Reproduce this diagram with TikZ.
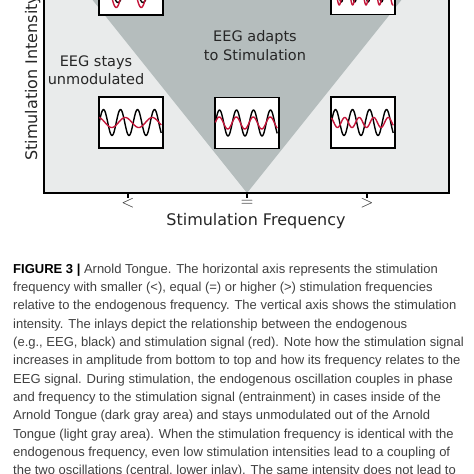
\documentclass[tikz,border=0pt]{standalone}
\usepackage{fontspec}
\setmainfont{Liberation Sans}
\newfontfamily\plotfont{DejaVu Sans}

\definecolor{outside}{HTML}{E9EBEB}
\definecolor{tongue}{HTML}{B5BDBD}
\definecolor{stim}{HTML}{C4163A}
\definecolor{captext}{HTML}{404040}

\begin{document}
\begin{tikzpicture}[x = 1 pt, y = -1 pt,
	inlay/.style = {draw, line width = 1.5 pt, fill = white, minimum width = 64 pt, minimum height = 51 pt, inner sep = 0 pt},
	regionlabel/.style = {anchor = base, inner sep = 0 pt, font = \plotfont\fontsize{14.5}{17}\selectfont, text = black!85},
	axislabel/.style = {inner sep = 0 pt, font = \plotfont\fontsize{16}{19}\selectfont, text = black!85},
	captionline/.style = {anchor = base west, inner sep = 0 pt, font = \fontsize{13}{15}\selectfont, text = captext}]

	% Definitions

	\def\Xl{44}		% Left frame
	\def\Xr{449}	% Right frame
	\def\Yb{193}	% Frequency axis
	\def\Xt{247}	% Tip of the tongue
	\def\Sl{0.8}	% Tongue slope
	\def\Ab{13}		% EEG amplitude

	\useasboundingbox (0, 0) rectangle (474, 474);
	\clip (0, 0) rectangle (474, 474);

	% Outside and inside of the tongue

	\fill [outside] (\Xl, -60) rectangle (\Xr, \Yb);
	\fill [tongue] (\Xt, \Yb) -- ({\Xt - \Sl * (\Yb + 60)}, -60) -- ({\Xt + \Sl * (\Yb + 60)}, -60) -- cycle;

	% Frame and ticks

	\draw [line width = 2 pt] (\Xl, -60) -- (\Xl, \Yb) -- (\Xr, \Yb) -- (\Xr, -60);

	\foreach \x/\sign [count = \i] in {128/{$<$}, 247/{$=$}, 367/{$>$}}
	{
		\draw [line width = 1.2 pt] (\x, \Yb) -- (\x, \Yb + 5);
		\node (tick\i) [axislabel] at (\x, 203) {\sign};
	}

	\node (freq) [axislabel, anchor = base] at (256, 225) {Stimulation Frequency};
	\node (intens) [axislabel, anchor = base west, rotate = 90] at (37, 161) {Stimulation Intensity};

	% Inlays: centre, EEG period, stimulation period, amplitude and shift

	\foreach \x/\y/\q/\p/\a/\f [count = \i] in {131/122.5/17/27/5/0, 247/123/17/17/6/5, 363/122.5/17/14.5/5/0, 131/-10.5/25/25/18/5.5, 363/-11/13.4/13.4/16/2.3}
	{
		\node (inlay\i) [inlay] at (\x, \y) {};
		\draw [line width = 1.4 pt, line join = round, shift = {(inlay\i.west)}]
			plot [variable = \t, domain = 1 : 63, samples = 140, smooth] ({\t}, {-\Ab * sin((\t - 1) / \q * 360)});
		\draw [stim, line width = 1.4 pt, line join = round, shift = {(inlay\i.west)}]
			plot [variable = \t, domain = 1 : 63, samples = 140, smooth] ({\t}, {-\a * cos((\t - \f) / \p * 360)});
	}

	% Region labels

	\node (adapts) [regionlabel] at (255, 41.7) {EEG adapts};
	\node (adapts2) [regionlabel] at (255, 60) {to Stimulation};
	\node (stays) [regionlabel] at (96, 66.7) {EEG stays};
	\node (stays2) [regionlabel] at (96, 84.3) {unmodulated};

	% Caption

	\foreach \l [count = \i] in {
		{{\color{black}\textbf{FIGURE 3 |}} Arnold Tongue. The horizontal axis represents the stimulation},
		{frequency with smaller (<), equal (=) or higher (>) stimulation frequencies},
		{relative to the endogenous frequency. The vertical axis shows the stimulation},
		{intensity. The inlays depict the relationship between the endogenous},
		{(e.g., EEG, black) and stimulation signal (red). Note how the stimulation signal},
		{increases in amplitude from bottom to top and how its frequency relates to the},
		{EEG signal. During stimulation, the endogenous oscillation couples in phase},
		{and frequency to the stimulation signal (entrainment) in cases inside of the},
		{Arnold Tongue (dark gray area) and stays unmodulated out of the Arnold},
		{Tongue (light gray area). When the stimulation frequency is identical with the},
		{endogenous frequency, even low stimulation intensities lead to a coupling of},
		{the two oscillations (central, lower inlay). The same intensity does not lead to}}
	{
		\node (cap\i) [captionline] at (13, {273.3 + 18.33 * (\i - 1)}) {\l};
	}

\end{tikzpicture}
\end{document}
